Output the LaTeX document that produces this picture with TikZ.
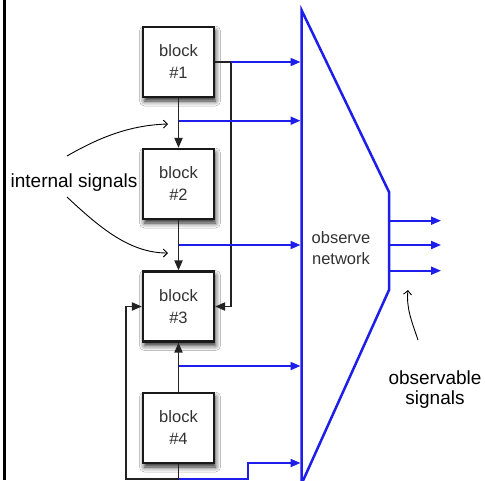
\documentclass[tikz,border=0pt]{standalone}
\usepackage{fontspec}
\setmainfont{Liberation Sans}
\usetikzlibrary{arrows.meta,shadows.blur}
\definecolor{sigblue}{RGB}{30,30,235}
\definecolor{wire}{RGB}{35,35,35}
\definecolor{blocktext}{RGB}{50,50,50}

\begin{document}
\begin{tikzpicture}[x=1pt,y=-1pt,
  blockbox/.style={draw=black!90, line width=2.2pt, fill=white,
    minimum width=71pt, minimum height=70pt, inner sep=0pt, align=center,
    font=\fontsize{16.5}{22}\selectfont, text=blocktext,
    blur shadow={shadow xshift=1.5pt, shadow yshift=-4pt,
                 shadow blur radius=5pt, shadow opacity=85}},
  wireline/.style={draw=wire, line width=1.9pt},
  sig/.style={draw=sigblue, line width=1.9pt},
  tip/.style={-{Triangle[length=10pt,width=8pt]}},
  note/.style={draw=black, line width=0.9pt, -{Straight Barb[length=4pt,width=8pt]}},
  label/.style={font=\fontsize{19}{20}\selectfont, align=center}
]
\clip (0,0) rectangle (485,480);
\fill[white] (0,0) rectangle (485,480);

% frame line on the left
\draw[line width=2.5pt] (4.3,0) -- (4.3,480);

% observe network (trapezoid)
\draw[draw=sigblue, line width=2.5pt, line join=miter, fill=white]
  (301.5,10) -- (389,192) -- (389,290) -- (301.5,484) -- cycle;
\node[label, font=\fontsize{16.5}{21}\selectfont, text=blocktext] (net) at (341,248) {observe\\network};

% input points on the network edge
\coordinate (in1) at (300.5,62);
\coordinate (in2) at (300.5,120.7);
\coordinate (in3) at (300.5,245);
\coordinate (in4) at (300.5,366);
\coordinate (in5) at (300.5,463);

% output signals
\coordinate (o1s) at (389,220.7); \coordinate (o1e) at (441,220.7);
\coordinate (o2s) at (389,245);   \coordinate (o2e) at (441,245);
\coordinate (o3s) at (389,270.7); \coordinate (o3e) at (441,270.7);
\draw[sig,tip] (o1s) -- (o1e);
\draw[sig,tip] (o2s) -- (o2e);
\draw[sig,tip] (o3s) -- (o3e);

% blocks
\node[blockbox] (b1) at (178.5,62)  {block\\\#1};
\node[blockbox] (b2) at (178.5,184) {block\\\#2};
\node[blockbox] (b3) at (178.5,306.5) {block\\\#3};
\node[blockbox] (b4) at (178.5,428) {block\\\#4};

% branch points
\coordinate (j1) at (231,62);
\coordinate (t1) at (178.5,120.7);
\coordinate (t2) at (178.5,245);
\coordinate (t3) at (178.5,366);
\coordinate (bot) at (178.5,479);
\coordinate (fb) at (125.7,479);
\coordinate (k1) at (248,479);
\coordinate (k2) at (248,463);

% internal wiring
\draw[wireline] (b1.east) -- (j1);
\draw[wireline,tip] (j1) |- (b3.east);
\draw[wireline,tip] (b1.south) -- (b2.north);
\draw[wireline,tip] (b2.south) -- (b3.north);
\draw[wireline,tip] (b4.north) -- (b3.south);
\draw[wireline] (b4.south) -- (bot);
\draw[wireline,tip] (bot) -- (fb) |- (b3.west);

% observed signals into the network
\draw[sig,tip] (j1) -- (in1);
\draw[sig,tip] (t1) -- (in2);
\draw[sig,tip] (t2) -- (in3);
\draw[sig,tip] (t3) -- (in4);
\draw[sig,tip] (bot) -- (k1) -- (k2) -- (in5);

% annotations
\node[label] (internal) at (74,183) {internal signals};
\coordinate (ia) at (67,156);
\coordinate (ib) at (67,197);
\coordinate (ta) at (168,124);
\coordinate (tb) at (168,253);
\draw[note] (ia) .. controls (105,134) and (135,125) .. (ta);
\draw[note] (ib) .. controls (100,228) and (130,253) .. (tb);

\node[label] (obs) at (435,390) {observable\\signals};
\coordinate (oa) at (418,340);
\coordinate (ob) at (408,290);
\draw[note] (oa) .. controls (412,322) and (406,308) .. (ob);
\end{tikzpicture}
\end{document}
